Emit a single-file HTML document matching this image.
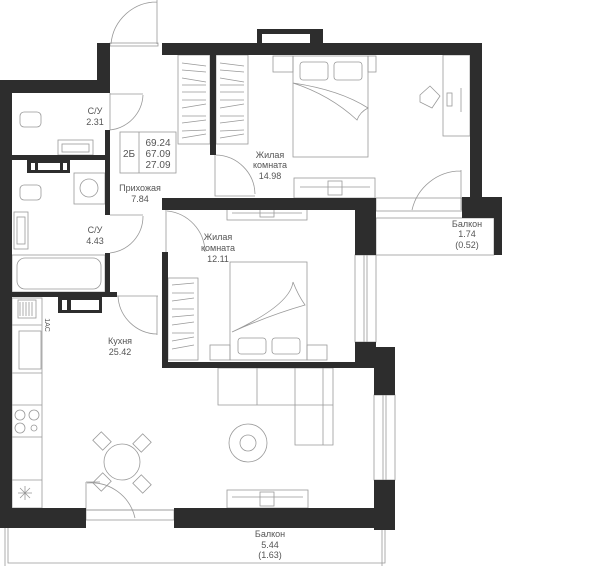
<!DOCTYPE html>
<html><head><meta charset="utf-8"><style>
html,body{margin:0;padding:0;background:#fff;}
svg{display:block;}
text{font-family:"Liberation Sans",sans-serif;font-size:9px;fill:#555;text-anchor:middle;}
</style></head><body>
<svg width="600" height="566" viewBox="0 0 600 566" xmlns="http://www.w3.org/2000/svg">
<g fill="none" stroke="#999" stroke-width="0.8">
<!-- entrance door -->
<rect x="110" y="43" width="48" height="3"/>
<path d="M157 0 L157 44 M157 2 A46 46 0 0 0 111 44"/>
<!-- top window inner -->
<!-- wardrobes bedroom1 -->
<rect x="178" y="55" width="32" height="89"/>
<rect x="216" y="55" width="32" height="89"/>
<path d="M182 63 L206 66 M182 70 L206 72 M182 78 L206 82 M182 85 L206 85 M182 92 L206 92 M182 100 L206 100 M182 108 L206 104 M182 116 L206 116 M182 123 L206 120 M182 131 L206 130 M182 138 L206 134"/>
<path d="M220 63 L244 66 M220 70 L244 72 M220 78 L244 82 M220 85 L244 85 M220 92 L244 92 M220 100 L244 100 M220 108 L244 104 M220 116 L244 116 M220 123 L244 120 M220 131 L244 130 M220 138 L244 134"/>
<!-- bedroom1 door -->
<path d="M215 155 L215 196 L255 196 M216 155 A40 40 0 0 1 255 194"/>
<!-- bed1 -->
<rect x="293" y="56" width="75" height="101"/>
<rect x="273" y="56" width="20" height="16"/><rect x="368" y="56" width="8" height="16"/>
<rect x="300" y="62" width="28" height="18" rx="3"/><rect x="334" y="62" width="28" height="18" rx="3"/>
<path d="M293 83 Q340 90 368 108 Q360 112 357 120 Q330 95 293 83"/>
<!-- desk -->
<rect x="443" y="55" width="27" height="81"/>
<path d="M420 95 L430 86 L440 96 L432 108 L420 102 Z"/>
<rect x="447" y="93" width="5" height="13"/>
<path d="M461 88 L461 112"/>
<!-- tv1 -->
<rect x="294" y="178" width="81" height="20"/>
<path d="M300 187 L370 187"/><rect x="328" y="181" width="14" height="14"/>
<!-- balcony door1 -->
<path d="M461 170 L461 210 M412 210 A50 50 0 0 1 461 171"/>
<rect x="376" y="198" width="86" height="13"/>
<rect x="376" y="218" width="118" height="37"/>
<!-- bedroom2 tv -->
<rect x="227" y="203" width="80" height="17"/><path d="M232 213 L302 213"/><rect x="260" y="205" width="14" height="12"/>
<!-- bedroom2 door -->
<path d="M166 210 L166 252 M167 211 A42 42 0 0 1 205 252"/>
<!-- bed2 -->
<rect x="230" y="262" width="77" height="98"/>
<rect x="210" y="345" width="20" height="15"/><rect x="307" y="345" width="20" height="15"/>
<rect x="238" y="338" width="28" height="16" rx="3"/><rect x="272" y="338" width="28" height="16" rx="3"/>
<path d="M232 332 Q270 315 305 305 Q298 295 293 282 Q290 305 232 332"/>
<rect x="168" y="278" width="30" height="82"/>
<path d="M172 285 L194 283 M172 293 L194 293 M172 301 L194 298 M172 309 L194 309 M172 317 L194 315 M172 325 L194 322 M172 333 L194 333 M172 341 L194 337 M172 349 L194 345"/>
<!-- windows -->
<rect x="355" y="255" width="21" height="87"/><path d="M364 255 L364 342 M367 255 L367 342"/>
<rect x="374" y="395" width="21" height="85"/><path d="M383 395 L383 480 M386 395 L386 480"/>
<!-- bathroom1 -->
<path d="M110 93 L110 130 M110 94 L143 94 M110 130 A37 37 0 0 0 143 95"/>
<rect x="20" y="112" width="21" height="15" rx="4"/>
<rect x="58" y="140" width="35" height="15"/><rect x="62" y="144" width="27" height="8"/>
<!-- bathroom2 -->
<rect x="74" y="173" width="31" height="31"/><circle cx="89" cy="188" r="9"/>
<rect x="20" y="185" width="21" height="15" rx="4"/>
<rect x="14" y="212" width="14" height="37"/><rect x="17" y="217" width="8" height="27"/>
<rect x="12" y="255" width="93" height="37"/><rect x="17" y="258" width="84" height="31" rx="8"/>
<path d="M110 215 L143 215 M110 253 A37 37 0 0 0 143 216"/>
<!-- kitchen door -->
<path d="M117 296 L158 296 M157 296 L157 335 M118 296 A40 40 0 0 0 157 334"/>
<!-- kitchen counter -->
<rect x="12" y="298" width="30" height="210"/>
<rect x="18" y="300" width="18" height="18"/>
<path d="M20 302 L20 316 M23 302 L23 316 M26 302 L26 316 M29 302 L29 316 M32 302 L32 316"/>
<path d="M12 325 L42 325 M12 373 L42 373 M12 405 L42 405 M12 437 L42 437 M12 480 L42 480"/>
<rect x="19" y="331" width="22" height="38"/>
<circle cx="20" cy="415" r="5"/><circle cx="34" cy="415" r="5"/><circle cx="20" cy="428" r="5"/><circle cx="34" cy="428" r="3"/>
<path d="M20 488 L30 498 M30 488 L20 498 M25 486 L25 500 M18 493 L32 493"/>
<!-- sofa -->
<path d="M218 368 L333 368 L333 445 L295 445 L295 405 L218 405 Z"/>
<path d="M257 368 L257 405 M295 368 L295 405 M295 405 L333 405 M323 368 L323 445"/>
<circle cx="248" cy="443" r="19"/><circle cx="248" cy="443" r="8"/>
<!-- table -->
<circle cx="122" cy="462" r="18"/>
<rect x="95" y="435" width="14" height="12" transform="rotate(45 102 441)"/>
<rect x="135" y="437" width="14" height="12" transform="rotate(-45 142 443)"/>
<rect x="95" y="476" width="14" height="12" transform="rotate(-45 102 482)"/>
<rect x="135" y="478" width="14" height="12" transform="rotate(45 142 484)"/>
<!-- balcony door -->
<path d="M86 482 L86 510 L174 510 M86 482 L100 482 M87 483 A45 45 0 0 1 135 518"/>
<rect x="86" y="510" width="88" height="10"/>
<!-- tv bottom -->
<rect x="227" y="490" width="81" height="18"/><path d="M232 497 L303 497"/><rect x="260" y="492" width="14" height="14"/>
<!-- balcony bottom -->
<path d="M8 528 L8 563 L385 563 L385 528 M5 528 L5 566 M382 528 L382 566"/>
<!-- area box -->
<rect x="120" y="132" width="56" height="41"/><path d="M139 132 L139 173"/>
</g>
<g fill="#2d2d2d">
<rect x="97" y="43" width="13" height="50"/>
<rect x="0" y="80" width="110" height="13"/>
<rect x="0" y="80" width="12" height="448"/>
<rect x="162" y="43" width="320" height="12"/>
<rect x="257" y="29" width="66" height="14"/>
<rect x="470" y="43" width="12" height="155"/>
<rect x="462" y="197" width="40" height="21"/>
<rect x="494" y="197" width="8" height="58"/>
<rect x="210" y="55" width="6" height="100"/>
<rect x="162" y="198" width="214" height="12"/>
<rect x="355" y="198" width="21" height="57"/>
<rect x="162" y="198" width="6" height="12"/>
<rect x="162" y="252" width="6" height="116"/>
<rect x="355" y="342" width="21" height="26"/>
<rect x="374" y="347" width="21" height="48"/>
<rect x="162" y="362" width="214" height="6"/>
<rect x="374" y="480" width="21" height="50"/>
<rect x="0" y="508" width="86" height="20"/>
<rect x="174" y="508" width="221" height="20"/>
<rect x="105" y="93" width="5" height="0"/>
<rect x="105" y="130" width="5" height="85"/>
<rect x="105" y="253" width="5" height="43"/>
<rect x="12" y="155" width="93" height="5"/>
<rect x="12" y="292" width="105" height="5"/>
<rect x="27" y="160" width="43" height="13"/>
<rect x="58" y="297" width="44" height="16"/>
</g>
<g fill="#fff">
<rect x="262" y="34" width="48" height="9"/>
<rect x="31" y="163" width="4" height="7"/><rect x="38" y="163" width="22" height="7"/><rect x="63" y="163" width="4" height="7"/>
<rect x="62" y="300" width="5" height="10"/><rect x="71" y="300" width="28" height="10"/>
</g>
<text x="95" y="114">С/У</text><text x="95" y="125">2.31</text>
<text x="129" y="157" style="font-size:10px">2Б</text>
<text x="158" y="146" style="font-size:10px">69.24</text><text x="158" y="157" style="font-size:10px">67.09</text><text x="158" y="168" style="font-size:10px">27.09</text>
<text x="140" y="191">Прихожая</text><text x="140" y="202">7.84</text>
<text x="95" y="233">С/У</text><text x="95" y="244">4.43</text>
<text x="270" y="158">Жилая</text><text x="270" y="168">комната</text><text x="270" y="179">14.98</text>
<text x="218" y="240">Жилая</text><text x="218" y="251">комната</text><text x="218" y="262">12.11</text>
<text x="120" y="344">Кухня</text><text x="120" y="355">25.42</text>
<text x="467" y="227">Балкон</text><text x="467" y="237">1.74</text><text x="467" y="248">(0.52)</text>
<text x="270" y="537">Балкон</text><text x="270" y="548">5.44</text><text x="270" y="558">(1.63)</text>
<text x="0" y="0" transform="translate(45 325) rotate(90)" style="font-size:7px">1AC</text>
</svg>
</body></html>
